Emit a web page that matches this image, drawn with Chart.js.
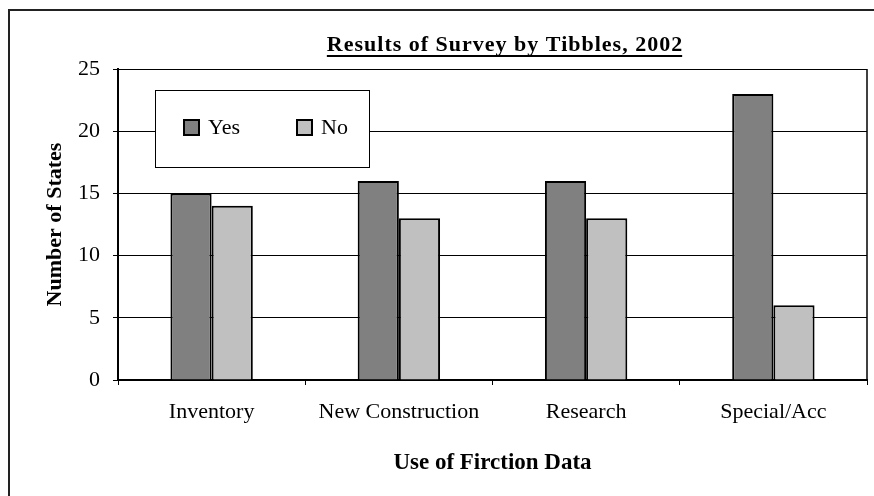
<!DOCTYPE html>
<html>
<head>
<meta charset="utf-8">
<script src="https://cdn.jsdelivr.net/npm/chart.js@4.4.0/dist/chart.umd.min.js"></script>
<style>
  html, body { margin: 0; padding: 0; background: #fff; }
  #wrap { width: 874px; height: 496px; position: relative; }
</style>
</head>
<body>
<div id="wrap"><canvas id="chart" width="874" height="496"></canvas></div>
<script>
// Chart data
const CATEGORIES = ["Inventory", "New Construction", "Research", "Special/Acc"];
const YES_VALUES = [15, 16, 16, 23];
const NO_VALUES = [14, 13, 13, 6];
const Y_TICKS = [0, 5, 10, 15, 20, 25];
const TITLE = "Results of Survey by Tibbles, 2002";

const SERIF = "'Liberation Serif', 'Times New Roman', serif";

// Frame, title with underline, plot right border
const decorPlugin = {
  id: "decor",
  beforeDraw(chart) {
    const ctx = chart.ctx;
    ctx.save();
    ctx.fillStyle = "#fff";
    ctx.fillRect(0, 0, chart.width, chart.height);
    ctx.strokeStyle = "#222";
    ctx.lineWidth = 2;
    ctx.beginPath();
    ctx.moveTo(9, chart.height + 5);
    ctx.lineTo(9, 10);
    ctx.lineTo(chart.width + 5, 10);
    ctx.stroke();
    ctx.restore();
  },
  afterDraw(chart) {
    const ctx = chart.ctx;
    const area = chart.chartArea;
    ctx.save();
    // right border of the plot
    ctx.strokeStyle = "#000";
    ctx.lineWidth = 1.5;
    ctx.beginPath();
    ctx.moveTo(area.right, area.top);
    ctx.lineTo(area.right, area.bottom);
    ctx.stroke();

    // title, underlined
    ctx.font = "bold 22px " + SERIF;
    ctx.letterSpacing = "1px";
    ctx.fillStyle = "#000";
    ctx.textAlign = "left";
    ctx.textBaseline = "alphabetic";
    const w = ctx.measureText(TITLE).width;
    const x0 = 505 - w / 2;
    ctx.fillText(TITLE, x0, 51);
    ctx.fillRect(x0, 55, w - 1, 2);
    ctx.restore();
  },
};

// Legend box drawn inside the plot area
const legendBoxPlugin = {
  id: "legendBox",
  afterDatasetsDraw(chart) {
    const ctx = chart.ctx;
    const box = { x: 155.5, y: 90.5, w: 214, h: 77 };
    ctx.save();
    ctx.fillStyle = "#fff";
    ctx.fillRect(box.x, box.y, box.w, box.h);
    ctx.strokeStyle = "#000";
    ctx.lineWidth = 1;
    ctx.strokeRect(box.x, box.y, box.w, box.h);
    ctx.font = "22px " + SERIF;
    ctx.textBaseline = "alphabetic";
    ctx.textAlign = "left";
    const starts = [184, 297];
    chart.data.datasets.forEach((ds, i) => {
      const x = starts[i];
      ctx.fillStyle = ds.backgroundColor;
      ctx.fillRect(x, 120, 15, 15);
      ctx.lineWidth = 2;
      ctx.strokeStyle = "#000";
      ctx.strokeRect(x, 120, 15, 15);
      ctx.fillStyle = "#000";
      ctx.fillText(ds.label, x + 24, 134);
    });
    ctx.restore();
  },
};

new Chart(document.getElementById("chart"), {
  type: "bar",
  data: {
    labels: CATEGORIES,
    datasets: [
      {
        label: "Yes",
        data: YES_VALUES,
        backgroundColor: "#808080",
        borderColor: "#000",
        borderWidth: 2,
        categoryPercentage: 0.44,
        barPercentage: 1.0,
      },
      {
        label: "No",
        data: NO_VALUES,
        backgroundColor: "#c0c0c0",
        borderColor: "#000",
        borderWidth: 2,
        categoryPercentage: 0.44,
        barPercentage: 1.0,
      },
    ],
  },
  options: {
    responsive: false,
    animation: false,
    devicePixelRatio: 1,
    layout: { padding: { left: 0, right: 7, top: 69, bottom: 0 } },
    plugins: {
      legend: { display: false },
      title: { display: false },
      tooltip: { enabled: false },
    },
    scales: {
      x: {
        afterFit: (scale) => { scale.height = 116; },
        border: { display: true, color: "#000", width: 2 },
        grid: {
          offset: true,
          drawOnChartArea: false,
          drawTicks: true,
          tickLength: 5,
          color: "#000",
          lineWidth: 1,
        },
        ticks: {
          color: "#000",
          font: { family: SERIF, size: 22 },
          padding: 14,
          maxRotation: 0,
        },
        title: {
          display: true,
          text: "Use of Firction Data",
          color: "#000",
          font: { family: SERIF, size: 23, weight: "bold" },
          padding: { top: 0, bottom: 19 },
        },
      },
      y: {
        min: 0,
        max: 25,
        afterFit: (scale) => { scale.width = 118; },
        afterBuildTicks: (scale) => {
          scale.ticks = Y_TICKS.map((v) => ({ value: v }));
        },
        border: { display: true, color: "#000", width: 2 },
        grid: {
          color: "#000",
          lineWidth: 1,
          tickLength: 5,
        },
        ticks: {
          color: "#000",
          font: { family: SERIF, size: 22 },
          padding: 13,
        },
        title: {
          display: true,
          text: "Number of States",
          color: "#000",
          font: { family: SERIF, size: 22, weight: "bold" },
          padding: { top: 42, bottom: 0 },
        },
      },
    },
  },
  plugins: [decorPlugin, legendBoxPlugin],
});
</script>
</body>
</html>
